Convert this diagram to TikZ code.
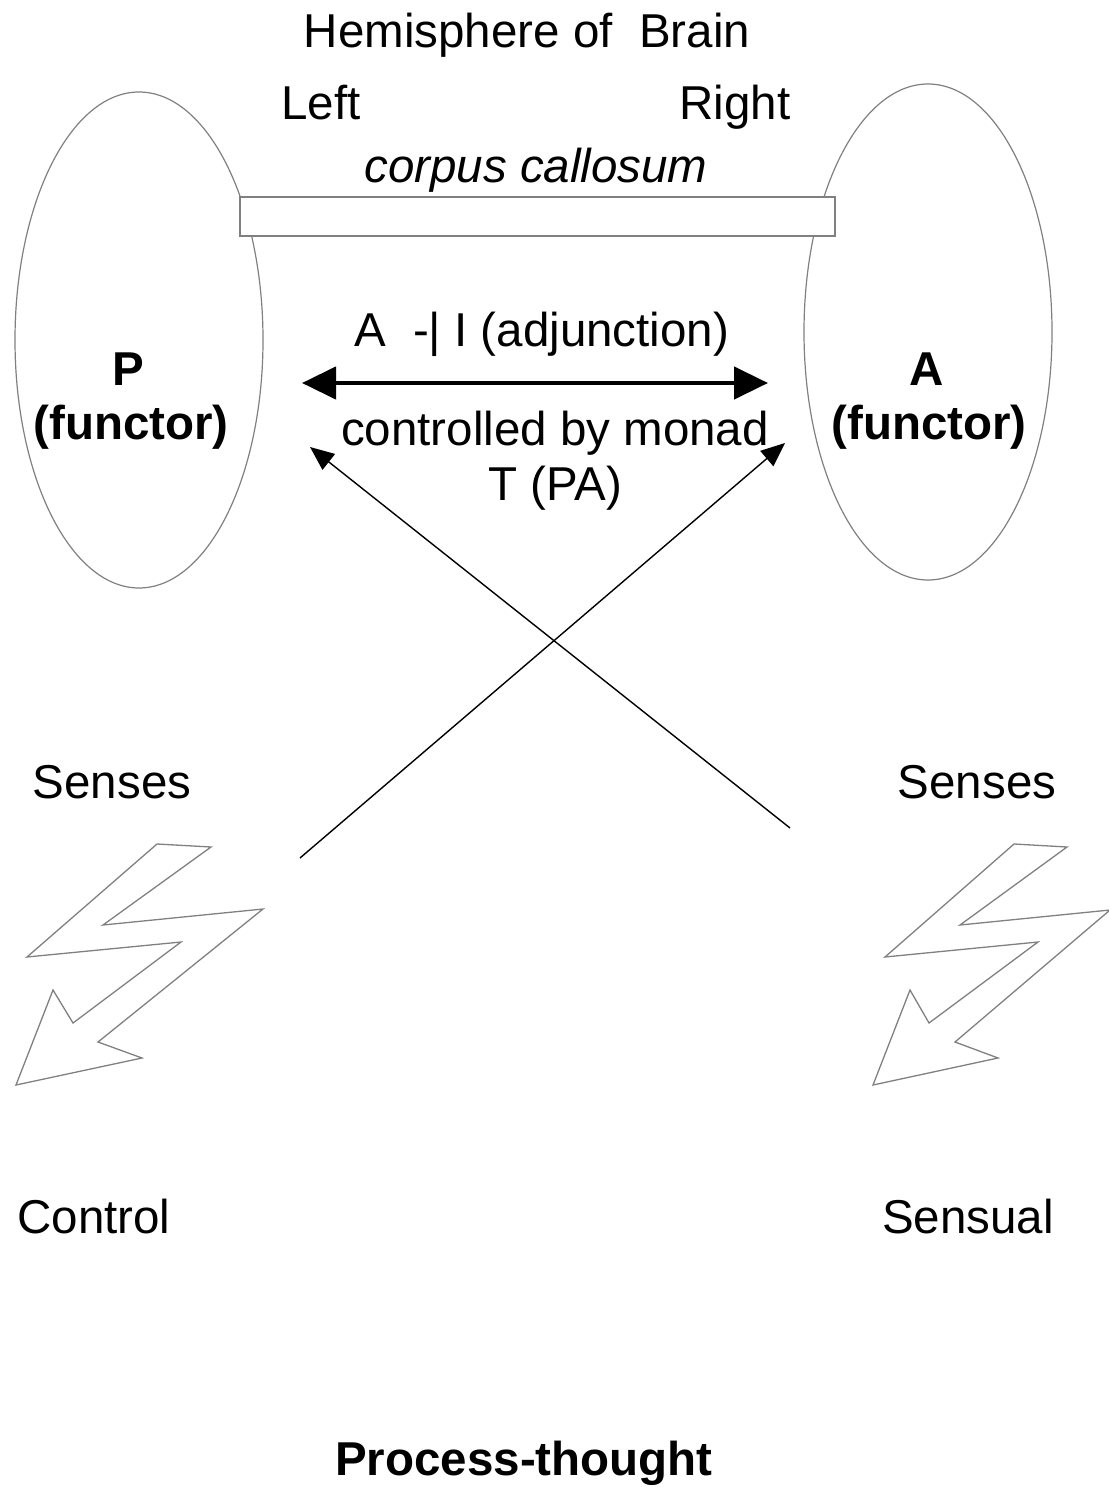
\documentclass[tikz,border=0pt]{standalone}
\usepackage{fontspec}
\setmainfont{Liberation Sans}
\usetikzlibrary{shapes.geometric,arrows.meta}
\begin{document}
\begin{tikzpicture}[x=1pt,y=-1pt,
  lbl/.style={inner sep=0pt, text height=0.72em, text depth=0.2em, yshift=-13pt, font=\fontsize{47.5}{54}\selectfont},
  blbl/.style={lbl, font=\fontsize{47.5}{54}\selectfont\bfseries},
  hemi/.style={ellipse, draw=black!50, line width=1.2pt, minimum width=248pt, minimum height=496pt, inner sep=0pt},
  bolt/.style={draw=black!50, line width=1.3pt, line join=miter},
  thin/.style={draw=black, line width=1.4pt, -{Triangle[length=24pt,width=20pt]}},
  thick/.style={draw=black, line width=4.5pt, {Triangle[length=34pt,width=32pt]}-{Triangle[length=34pt,width=32pt]}}
]
\useasboundingbox (0,0) rectangle (1108,1487);
\node[hemi] (lefth) at (139,340) {};
\node[hemi] (righth) at (928,332) {};
\node[draw=black!50, fill=white, line width=1.2pt, minimum width=595pt, minimum height=39pt, inner sep=0pt] (cc) at (537.5,216.5) {};

\node[lbl] (title) at (527,32) {Hemisphere of\ \ Brain};
\node[lbl] (left) at (321,104) {Left};
\node[lbl] (right) at (735,104) {Right};
\node[lbl, font=\fontsize{47.5}{54}\selectfont\itshape] (ccl) at (536,167) {corpus callosum};
\node[lbl] (adj) at (542,331) {A\ \ -| I (adjunction)};
\node[lbl] (ctrl) at (555,430) {controlled by monad};
\node[lbl] (tpa) at (555,485) {T (PA)};
\node[blbl] (pl) at (128,370) {P};
\node[blbl] (pf) at (131,424) {(functor)};
\node[blbl] (al) at (927,370) {A};
\node[blbl] (af) at (929,424) {(functor)};
\node[lbl] (s1) at (112,783) {Senses};
\node[lbl] (s2) at (977,783) {Senses};
\node[lbl] (c1) at (94,1218) {Control};
\node[lbl] (c2) at (968,1218) {Sensual};
\node[blbl] (pt) at (524,1460) {Process-thought};

\coordinate (dl) at (302,383);
\coordinate (dr) at (768,383);
\draw[thick] (dl) -- (dr);

\coordinate (a1s) at (300,858);
\coordinate (a1e) at (785,443);
\coordinate (a2s) at (790,828);
\coordinate (a2e) at (310,447);
\draw[thin] (a1s) -- (a1e);
\draw[thin] (a2s) -- (a2e);

\draw[bolt] (157,844) -- (211,847) -- (103,925) -- (263,909) -- (98,1042) -- (142,1058) -- (16,1085) -- (53,990) -- (73,1023) -- (181,942) -- (27,957) -- cycle;
\draw[bolt] (1014,844) -- (1067,847) -- (960,925) -- (1110,910) -- (955,1042) -- (998,1058) -- (873,1085) -- (910,990) -- (929,1023) -- (1038,942) -- (885,957) -- cycle;
\end{tikzpicture}
\end{document}
